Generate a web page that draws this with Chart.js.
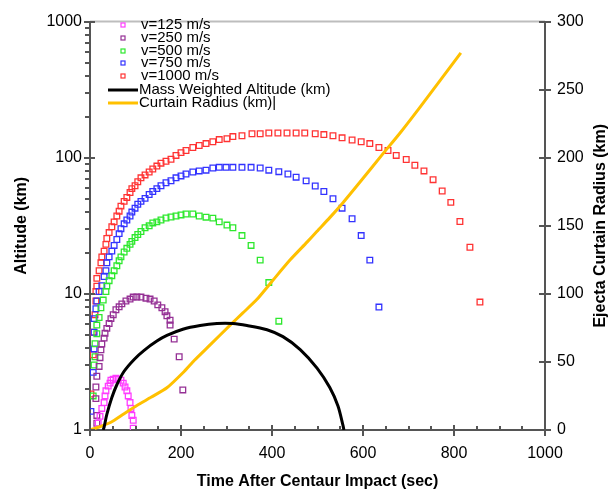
<!DOCTYPE html>
<html>
<head>
<meta charset="utf-8">
<script src="https://cdn.jsdelivr.net/npm/chart.js@4.4.0/dist/chart.umd.min.js"></script>
<style>
  html, body { margin: 0; padding: 0; background: #fff; }
</style>
</head>
<body>
<canvas id="chart" width="616" height="501"></canvas>
<script>
// --- data (time in s, altitude in km, radius in km) ---
const t125 = [18, 22, 26, 31, 33, 35, 40, 44, 46, 51, 57, 62, 68, 73, 77, 81, 84, 88, 90, 92, 95, 95];
const alt125 = [1.12, 1.26, 1.44, 1.59, 1.78, 1.94, 2.10, 2.21, 2.32, 2.36, 2.40, 2.36, 2.32, 2.21, 2.07, 1.94, 1.78, 1.59, 1.44, 1.28, 1.18, 1.03];

const t250 = [15, 15, 13, 13, 15, 20, 22, 24, 26, 31, 33, 37, 42, 46, 51, 57, 64, 70, 79, 88, 95, 103, 112, 123, 132, 141, 149, 158, 165, 169, 176, 176, 185, 196, 204];
const alt250 = [1.12, 1.28, 1.70, 2.07, 2.48, 2.93, 3.40, 3.88, 4.28, 4.73, 5.14, 5.58, 6.06, 6.58, 7.03, 7.64, 8.03, 8.44, 8.87, 9.16, 9.47, 9.47, 9.47, 9.3, 9.16, 8.87, 8.3, 7.9, 7.4, 6.9, 6.4, 5.9, 4.65, 3.45, 1.97];

const t500 = [7, 9, 11, 11, 15, 15, 20, 24, 29, 35, 37, 42, 48, 53, 59, 64, 68, 75, 81, 88, 92, 99, 105, 112, 121, 130, 138, 147, 156, 167, 178, 189, 200, 211, 226, 240, 255, 270, 284, 301, 314, 334, 354, 374, 393, 415];
const alt500 = [1.78, 3.0, 3.45, 4.3, 5.1, 5.9, 6.7, 7.9, 9.0, 10.4, 11.4, 12.5, 13.6, 14.8, 16.1, 17.5, 18.7, 20.3, 21.6, 23.1, 24.3, 25.9, 27.3, 28.7, 30.6, 31.6, 33.2, 33.8, 34.9, 36.1, 36.7, 37.3, 38, 38.6, 38.6, 37.3, 36.6, 36, 33.8, 32, 30.6, 26.8, 22.7, 17.7, 12.1, 6.3];

const t750 = [2, 7, 9, 9, 9, 13, 15, 20, 26, 31, 35, 37, 42, 48, 53, 59, 64, 68, 75, 81, 88, 92, 99, 105, 112, 121, 130, 138, 147, 156, 167, 178, 189, 200, 211, 226, 240, 255, 270, 284, 299, 314, 334, 354, 374, 393, 415, 435, 453, 475, 495, 514, 534, 554, 576, 596, 615, 635];
const alt750 = [1.37, 2.65, 3.94, 5.22, 6.58, 7.77, 8.87, 10.4, 11.5, 13.4, 14.8, 16.9, 18.7, 20.6, 22.7, 25.1, 27.7, 30.1, 32.7, 34.9, 37.3, 39.9, 42.6, 45.5, 47.8, 50.3, 53.7, 56.5, 59.3, 62.3, 65.5, 67.8, 71.2, 73.5, 76, 78.6, 80, 81, 84, 85, 85, 85, 85, 85, 84, 81, 79, 76, 72, 67.6, 62, 56.5, 50, 42.6, 35.6, 26.8, 17.7, 8.0];

const t1000 = [2, 7, 7, 11, 13, 13, 15, 15, 20, 24, 26, 31, 35, 37, 42, 48, 53, 59, 64, 68, 75, 81, 88, 92, 99, 105, 112, 121, 130, 138, 147, 156, 167, 178, 189, 200, 211, 226, 240, 255, 270, 284, 301, 314, 334, 356, 374, 393, 413, 433, 453, 472, 495, 514, 534, 554, 576, 596, 615, 635, 655, 673, 695, 714, 734, 754, 774, 793, 813, 835, 857];
const alt1000 = [1.84, 3.57, 5.22, 7.03, 8.87, 10.4, 11.4, 13.0, 14.8, 16.9, 18.7, 20.6, 23.1, 25.5, 28.2, 31.1, 33.8, 37.3, 40.5, 44.1, 47.8, 51.1, 55.5, 59.3, 62.3, 66.6, 71.2, 74.8, 78.6, 82.6, 86.8, 91.2, 94.3, 97.4, 104, 109, 113, 119, 123, 127, 131, 136, 138, 143, 145, 150, 150, 152, 152, 152, 152, 152, 150, 148, 145, 140, 135, 131, 127, 119, 113, 104, 97, 88, 80, 69, 57, 47, 34, 22, 8.7];

const tMass = [29, 31, 37, 48, 59, 75, 97, 119, 147, 169, 204, 242, 279, 314, 345, 389, 424, 462, 499, 527, 545, 556, 558];
const altMass = [1.0, 1.05, 1.3, 1.73, 2.15, 2.7, 3.3, 3.85, 4.5, 4.95, 5.5, 5.86, 6.06, 6.06, 5.86, 5.45, 4.85, 3.9, 2.85, 2.05, 1.5, 1.08, 1.0];

const tCurtain = [0, 20, 46, 75, 103, 134, 169, 207, 229, 264, 308, 336, 367, 402, 440, 477, 499, 527, 556, 593, 644, 681, 725, 815];
const rCurtain = [0, 2.2, 5.7, 12, 18, 24, 31, 43, 51, 62.5, 77, 86, 96, 110, 125, 138, 146, 156, 167, 182, 203, 218, 237, 277];

const xTickLabels = [0, 200, 400, 600, 800, 1000];
const altTickLabels = [1, 10, 100, 1000];
const radiusTickLabels = [0, 50, 100, 150, 200, 250, 300];

const FONT = "'Liberation Sans', Arial, sans-serif";
const AXIS_GREY = '#555555';

function pts(xs, ys) {
    return xs.map((x, i) => ({ x: x, y: ys[i] }));
}

function scatterSet(label, xs, ys, color) {
    return {
        label: label,
        data: pts(xs, ys),
        showLine: false,
        pointStyle: 'rect',
        pointRadius: 4,
        pointBorderWidth: 1.3,
        pointBorderColor: color,
        pointBackgroundColor: 'rgba(0,0,0,0)',
        borderColor: color,
        yAxisID: 'y'
    };
}

const datasets = [
    {
        label: 'Mass Weighted Altitude (km)',
        data: pts(tMass, altMass),
        showLine: true,
        borderColor: '#000000',
        borderWidth: 3,
        pointRadius: 0,
        tension: 0.3,
        yAxisID: 'y'
    },
    {
        label: 'Curtain Radius (km)|',
        data: pts(tCurtain, rCurtain),
        showLine: true,
        borderColor: '#ffc000',
        borderWidth: 3,
        pointRadius: 0,
        tension: 0.2,
        yAxisID: 'y2'
    },
    scatterSet('v=125 m/s', t125, alt125, '#ff3cff'),
    scatterSet('v=250 m/s', t250, alt250, '#953095'),
    scatterSet('v=500 m/s', t500, alt500, '#2ee82e'),
    scatterSet('v=750 m/s', t750, alt750, '#3333ff'),
    scatterSet('v=1000 m/s', t1000, alt1000, '#ff3333')
];

// legend drawn inside the plot, like the original
const legendOrder = [2, 3, 4, 5, 6, 0, 1];

function seg(ctx, x1, y1, x2, y2) {
    ctx.beginPath();
    ctx.moveTo(x1, y1);
    ctx.lineTo(x2, y2);
    ctx.stroke();
}

const customDecor = {
    id: 'customDecor',
    afterDraw(chart) {
        const ctx = chart.ctx;
        const a = chart.chartArea;
        const sx = chart.scales.x;
        const sy = chart.scales.y;
        const sr = chart.scales.y2;
        ctx.save();

        // top frame line
        ctx.strokeStyle = '#bdbdbd';
        ctx.lineWidth = 2;
        seg(ctx, a.left, a.top, a.right, a.top);

        ctx.strokeStyle = AXIS_GREY;
        ctx.lineWidth = 2;

        // x ticks: major crossing the axis, minor inside
        for (let v = 0; v <= 1000; v += 50) {
            const px = Math.round(sx.getPixelForValue(v));
            if (xTickLabels.includes(v)) seg(ctx, px, a.bottom - 5, px, a.bottom + 6);
            else seg(ctx, px, a.bottom - 4, px, a.bottom);
        }
        // left log ticks
        altTickLabels.forEach((d, i) => {
            const py = Math.round(sy.getPixelForValue(d));
            seg(ctx, a.left - 6, py, a.left + 5, py);
            if (i < altTickLabels.length - 1) {
                for (let m = 2; m <= 9; m++) {
                    const pm = Math.round(sy.getPixelForValue(d * m));
                    seg(ctx, a.left - 5, pm, a.left, pm);
                }
            }
        });
        // right ticks
        radiusTickLabels.forEach(v => {
            const py = Math.round(sr.getPixelForValue(v));
            seg(ctx, a.right - 6, py, a.right + 6, py);
        });

        // right axis title, reading bottom to top
        ctx.save();
        ctx.translate(601, (a.top + a.bottom) / 2);
        ctx.rotate(-Math.PI / 2);
        ctx.font = 'bold 16px ' + FONT;
        ctx.fillStyle = '#000';
        ctx.textAlign = 'center';
        ctx.textBaseline = 'middle';
        ctx.fillText('Ejecta Curtain Radius (km)', 0, 0);
        ctx.restore();

        // legend
        const sets = chart.data.datasets;
        const rowY = [25, 38, 51, 63, 76, 90, 103];
        ctx.font = '15px ' + FONT;
        ctx.textBaseline = 'middle';
        ctx.textAlign = 'left';
        ctx.fillStyle = '#000';
        legendOrder.forEach((idx, r) => {
            const ds = sets[idx];
            const yy = rowY[r];
            if (ds.showLine) {
                ctx.strokeStyle = ds.borderColor;
                ctx.lineWidth = 3;
                seg(ctx, 108, yy, 138, yy);
                ctx.fillText(ds.label, 139, yy);
            } else {
                ctx.strokeStyle = ds.pointBorderColor;
                ctx.lineWidth = 1.2;
                ctx.strokeRect(121, yy - 2, 4, 4);
                ctx.fillText(ds.label, 141, yy);
            }
        });
        ctx.restore();
    }
};

const tickFont = { family: FONT, size: 16 };
const titleFont = { family: FONT, size: 16, weight: 'bold' };

new Chart(document.getElementById('chart'), {
    type: 'scatter',
    data: { datasets: datasets },
    options: {
        responsive: false,
        animation: false,
        layout: { padding: { top: 12, left: 0, right: 0, bottom: 0 } },
        plugins: {
            legend: { display: false },
            tooltip: { enabled: false }
        },
        scales: {
            x: {
                type: 'linear',
                min: 0,
                max: 1000,
                grid: { display: false, drawTicks: false },
                border: { color: AXIS_GREY, width: 2 },
                ticks: {
                    stepSize: 200,
                    color: '#000',
                    font: tickFont,
                    padding: 14,
                    maxRotation: 0,
                    callback: v => String(v)
                },
                title: {
                    display: true,
                    text: 'Time After Centaur Impact (sec)',
                    color: '#000',
                    font: titleFont,
                    padding: { top: 9.4, bottom: 9.4 }
                },
                afterFit: s => { s.height = 71; }
            },
            y: {
                type: 'logarithmic',
                position: 'left',
                min: 1,
                max: 1000,
                grid: { display: false, drawTicks: false },
                border: { color: AXIS_GREY, width: 2 },
                ticks: {
                    autoSkip: false,
                    color: '#000',
                    font: tickFont,
                    padding: 8,
                    callback: v => altTickLabels.includes(v) ? String(v) : ''
                },
                title: {
                    display: true,
                    text: 'Altitude (km)',
                    color: '#000',
                    font: titleFont,
                    padding: { top: 12.4, bottom: 12.4 }
                },
                afterFit: s => { s.width = 90; }
            },
            y2: {
                type: 'linear',
                position: 'right',
                min: 0,
                max: 300,
                grid: { display: false, drawTicks: false },
                border: { color: AXIS_GREY, width: 2 },
                ticks: {
                    stepSize: 50,
                    color: '#000',
                    font: tickFont,
                    padding: 12
                },
                title: { display: false },
                afterFit: s => { s.width = 71; }
            }
        }
    },
    plugins: [customDecor]
});
</script>
</body>
</html>
